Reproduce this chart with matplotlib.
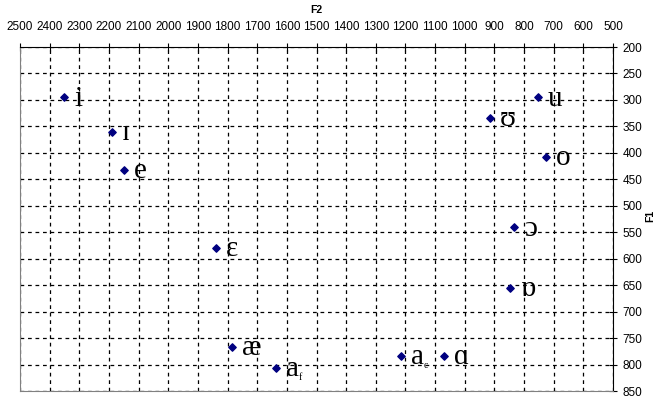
import numpy as np
import matplotlib
matplotlib.use("Agg")
import matplotlib.pyplot as plt

# vowel formants (Hz)
vowels = ["i", "ɪ", "e", "ɛ", "æ", "a", "a", "ɑ", "u", "ʊ", "o", "ɔ", "ɒ"]
subs = ["", "", "", "", "", "f", "c", "", "", "", "", "", ""]
f2 = [2350, 2190, 2150, 1840, 1785, 1637, 1215, 1070, 753, 915, 726, 834, 847]
f1 = [295, 360, 432, 580, 766, 806, 783, 783, 295, 334, 408, 541, 655]

xticks = np.arange(500, 2501, 100)
yticks = np.arange(200, 851, 50)

fig = plt.figure(figsize=(6.61, 4.04), dpi=100)
ax = fig.add_axes([20 / 661, 1 - 391 / 404, 593 / 661, 344 / 404])

ax.scatter(f2, f1, marker="D", s=14, color="#000080", zorder=3)

for x, y, v, s in zip(f2, f1, vowels, subs):
    ax.annotate(v, (x, y), xytext=(7, -1), textcoords="offset points",
                fontsize=21, family="Liberation Serif", va="center", ha="left")
    if s:
        ax.annotate(s, (x, y), xytext=(16.5, -7), textcoords="offset points",
                    fontsize=7, family="Liberation Serif", va="center", ha="left")

ax.set_xlim(2500, 500)
ax.set_ylim(850, 200)
ax.set_xticks(xticks)
ax.set_yticks(yticks)
ax.xaxis.tick_top()
ax.yaxis.tick_right()
ax.tick_params(direction="inout", length=6, width=0.8, labelsize=8.5)
ax.tick_params(axis="x", pad=7)
ax.tick_params(axis="y", pad=4)
for lab in ax.get_xticklabels() + ax.get_yticklabels():
    lab.set_family("Liberation Sans")

# axis titles placed like the original
fig.text(316 / 661, 1 - 10 / 404, "F2", fontsize=7.5, fontweight="bold",
         family="Liberation Sans", ha="center", va="center")
fig.text(650 / 661, 1 - 216 / 404, "F1", fontsize=7.5, fontweight="bold",
         family="Liberation Sans", ha="center", va="center", rotation=90)

ax.grid(True, color="black", linestyle=(0, (3, 3)), linewidth=0.9)
ax.spines["left"].set_color("gray")
ax.spines["bottom"].set_color("gray")
ax.spines["top"].set_color("black")
ax.spines["right"].set_color("black")

fig.savefig("out.png", dpi=100)
